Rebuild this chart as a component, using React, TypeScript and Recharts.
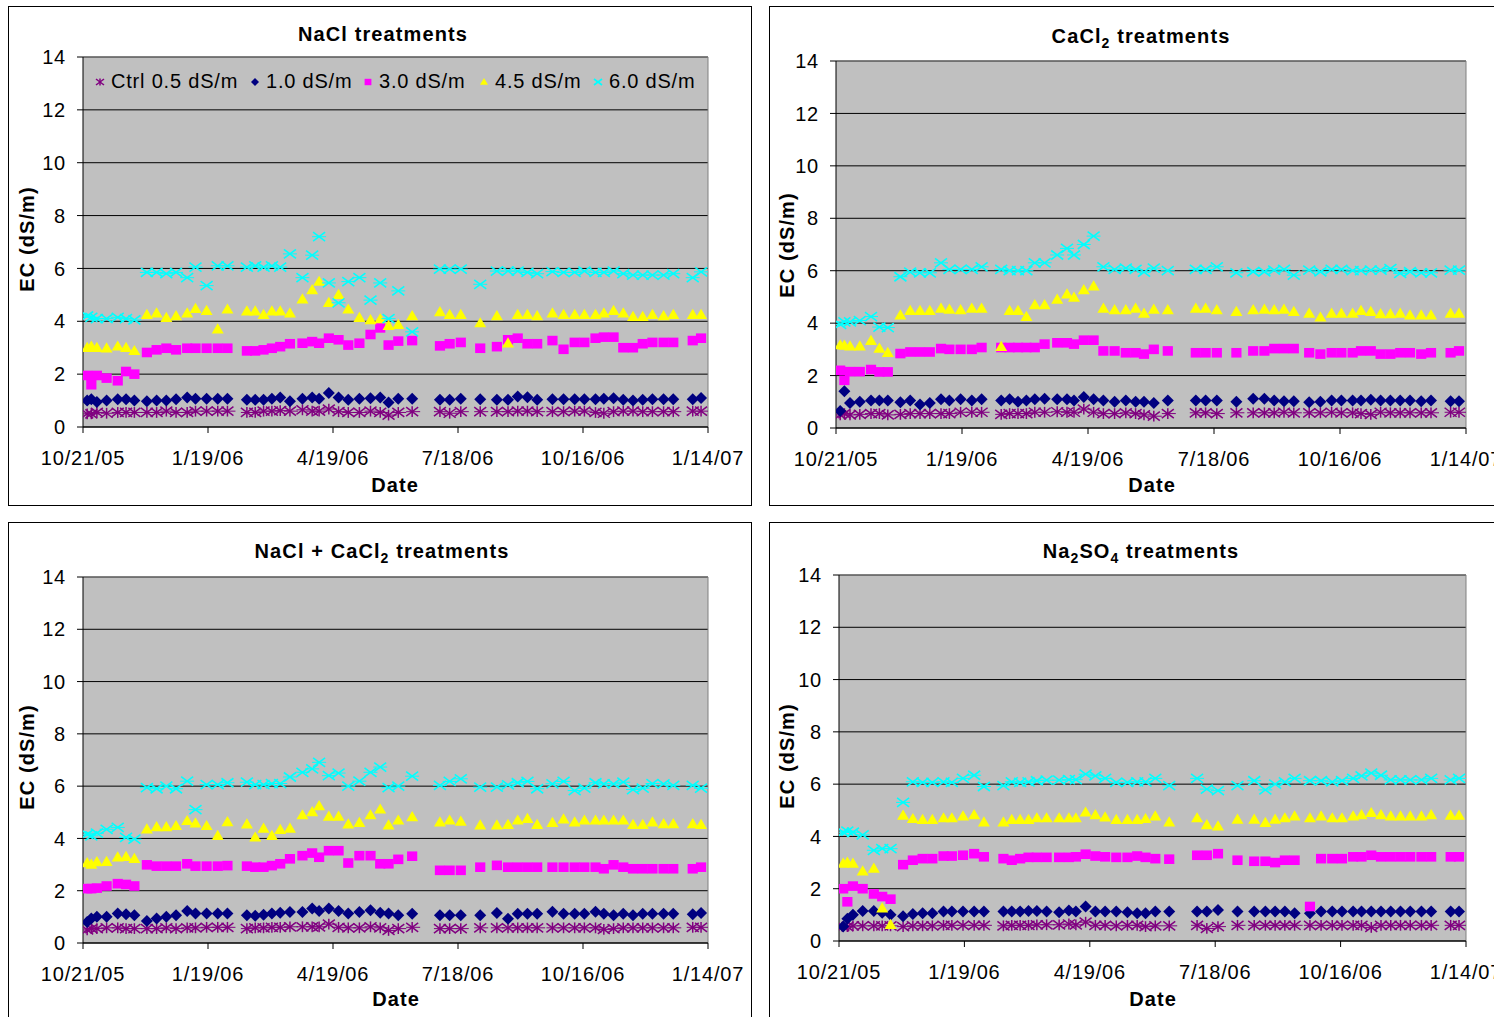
import React from "react";
import { CartesianGrid, ReferenceLine, Scatter, ScatterChart, XAxis, YAxis } from "recharts";

// sampling days, counted from 10/21/05
const DAYS = [
  3, 6, 10, 17, 25, 31, 37,
  46, 53, 60, 67, 75, 81, 89, 97, 104,
  118, 124, 130, 136, 142, 149, 158, 165, 170, 177, 184, 191, 199, 207, 214, 220, 227,
  237,
  257, 264, 272,
  286,
  298, 306, 313, 320, 327,
  338, 346, 354, 361, 369, 375, 382, 389, 396, 403, 410, 418, 425,
  439, 445,
];

const DATE_TICKS = [0, 90, 180, 270, 360, 450];
const DATE_LABELS = ["10/21/05", "1/19/06", "4/19/06", "7/18/06", "10/16/06", "1/14/07"];
const EC_TICKS = [0, 2, 4, 6, 8, 10, 12, 14];
const LEGEND_LABELS = ["Ctrl 0.5 dS/m", "1.0 dS/m", "3.0 dS/m", "4.5 dS/m", "6.0 dS/m"];

// NaCl
const naclCtrl = [
  0.5, 0.5, 0.55, 0.52, 0.55, 0.55, 0.55,
  0.55, 0.55, 0.6, 0.55, 0.55, 0.6, 0.6, 0.6, 0.6,
  0.55, 0.55, 0.6, 0.6, 0.62, 0.6, 0.65, 0.6, 0.6, 0.68, 0.58, 0.55, 0.55, 0.6, 0.55, 0.45, 0.55,
  0.58,
  0.58, 0.52, 0.58,
  0.58,
  0.58, 0.58, 0.6, 0.6, 0.58,
  0.58, 0.58, 0.6, 0.6, 0.55, 0.52, 0.58, 0.6, 0.6, 0.58, 0.58, 0.58, 0.58,
  0.6, 0.6,
];
const nacl1 = [
  1.0, 1.05, 0.95, 1.0, 1.05, 1.05, 1.0,
  0.97, 1.0, 1.0, 1.05, 1.12, 1.07, 1.07, 1.07, 1.07,
  1.03, 1.03, 1.03, 1.07, 1.12, 0.97, 1.07, 1.12, 1.07, 1.29, 1.12, 1.03, 1.07, 1.09, 1.12, 0.93, 1.07,
  1.07,
  1.03, 1.03, 1.07,
  1.05,
  1.03, 1.03, 1.15, 1.13, 1.03,
  1.05, 1.05, 1.05, 1.05, 1.05, 1.07, 1.09, 1.03, 1.0, 1.03, 1.05, 1.05, 1.05,
  1.05, 1.1,
];
const nacl3 = [
  1.95, 1.6, 1.95, 1.85, 1.75, 2.1, 2.0,
  2.82, 2.92, 2.98, 2.92, 2.98, 2.98, 2.98, 2.98, 2.98,
  2.88, 2.88, 2.92, 2.98, 3.04, 3.15, 3.17, 3.23, 3.17, 3.36, 3.3, 3.1, 3.17, 3.5, 3.75, 3.1, 3.25,
  3.27,
  3.07, 3.15, 3.2,
  2.98,
  3.04, 3.3, 3.36, 3.15, 3.15,
  3.27, 2.94, 3.2, 3.2, 3.36, 3.4, 3.4, 3.0, 3.0, 3.15, 3.2, 3.2, 3.2,
  3.27, 3.36,
];
const nacl45 = [
  3.0, 3.05, 3.0, 2.98, 3.05, 3.0, 2.88,
  4.25, 4.3, 4.13, 4.2, 4.3, 4.47, 4.4, 3.7, 4.45,
  4.38, 4.38, 4.25, 4.38, 4.38, 4.3, 4.83, 5.18, 5.5, 4.7, 5.0, 4.45, 4.13, 4.05, 4.08, 3.83, 3.87,
  4.2,
  4.35, 4.25, 4.25,
  3.93,
  4.2, 3.17, 4.25, 4.25, 4.2,
  4.3, 4.25, 4.25, 4.25, 4.25, 4.3, 4.4, 4.3, 4.17, 4.17, 4.25, 4.2, 4.25,
  4.25, 4.25,
];
const nacl6 = [
  4.2, 4.15, 4.1, 4.1, 4.15, 4.1, 4.05,
  5.85, 5.85, 5.8, 5.85, 5.65, 6.05, 5.35, 6.1, 6.1,
  6.05, 6.1, 6.05, 6.1, 6.05, 6.55, 5.65, 6.5, 7.2, 5.45, 4.7, 5.5, 5.65, 4.8, 5.45, 4.1, 5.15,
  3.6,
  5.97, 5.97, 5.97,
  5.4,
  5.9, 5.9, 5.9, 5.85, 5.8,
  5.88, 5.85, 5.85, 5.9, 5.85, 5.85, 5.9, 5.8, 5.75, 5.75, 5.75, 5.75, 5.8,
  5.65, 5.87,
];

// CaCl2
const caclCtrl = [
  0.5, 0.55, 0.5, 0.52, 0.55, 0.55, 0.5,
  0.52, 0.55, 0.55, 0.55, 0.55, 0.55, 0.6, 0.6, 0.6,
  0.52, 0.55, 0.55, 0.55, 0.6, 0.6, 0.62, 0.6, 0.6, 0.72, 0.6, 0.55, 0.55, 0.58, 0.55, 0.5, 0.45,
  0.55,
  0.58, 0.58, 0.55,
  0.58,
  0.58, 0.58, 0.58, 0.6, 0.58,
  0.58, 0.58, 0.6, 0.58, 0.58, 0.55, 0.52, 0.6, 0.58, 0.58, 0.58, 0.58, 0.58,
  0.6, 0.6,
];
const cacl1 = [
  0.65, 1.4, 0.95, 1.0, 1.05, 1.05, 1.05,
  0.98, 1.05, 0.9, 0.95, 1.1, 1.05, 1.1, 1.05, 1.1,
  1.05, 1.1, 1.0, 1.05, 1.1, 1.12, 1.1, 1.1, 1.05, 1.18, 1.1, 1.05, 1.0, 1.05, 1.0, 1.0, 0.95,
  1.05,
  1.05, 1.05, 1.05,
  1.0,
  1.12, 1.12, 1.05, 1.02, 1.02,
  0.98, 1.0, 1.05, 1.05, 1.05, 1.05, 1.08, 1.05, 1.05, 1.05, 1.05, 1.02, 1.05,
  1.02, 1.02,
];
const cacl3 = [
  2.2, 1.82, 2.15, 2.15, 2.23, 2.14, 2.14,
  2.84, 2.9, 2.9, 2.9, 3.03, 3.0, 3.0, 3.0, 3.07,
  3.07, 3.07, 3.07, 3.07, 3.07, 3.2, 3.25, 3.25, 3.2, 3.35, 3.35, 2.94, 2.94, 2.87, 2.87, 2.82, 3.0,
  2.94,
  2.87, 2.87, 2.87,
  2.87,
  2.94, 2.94, 3.03, 3.03, 3.03,
  2.87, 2.82, 2.87, 2.87, 2.87, 2.94, 2.94, 2.82, 2.82, 2.87, 2.87, 2.82, 2.87,
  2.87, 2.94,
];
const cacl45 = [
  3.16, 3.15, 3.12, 3.12, 3.33, 3.03, 2.87,
  4.3, 4.47, 4.47, 4.47, 4.56, 4.52, 4.5, 4.56, 4.56,
  3.1, 4.47, 4.47, 4.24, 4.69, 4.69, 4.9, 5.1, 4.98, 5.26, 5.41, 4.56, 4.5, 4.5, 4.56, 4.37, 4.52,
  4.5,
  4.56, 4.56, 4.5,
  4.43,
  4.5, 4.52, 4.5, 4.52, 4.43,
  4.37, 4.22, 4.37, 4.37, 4.37, 4.47, 4.43, 4.35, 4.35, 4.37, 4.3, 4.3, 4.3,
  4.37, 4.37,
];
const cacl6 = [
  3.95, 4.05, 4.05, 4.1, 4.25, 3.85, 3.83,
  5.77, 5.95, 5.92, 5.92, 6.3, 6.05, 6.05, 6.05, 6.15,
  6.05, 6.0, 6.0, 6.0, 6.3, 6.3, 6.6, 6.85, 6.6, 7.0, 7.32, 6.15, 6.05, 6.1, 6.05, 5.95, 6.1,
  6.0,
  6.05, 6.05, 6.15,
  5.92,
  5.96, 5.96, 6.02, 6.05, 5.83,
  6.02, 5.96, 6.05, 6.05, 6.0, 6.0, 6.02, 6.02, 6.08, 5.9, 5.96, 5.92, 5.92,
  6.02, 6.02,
];

// NaCl + CaCl2
const mixCtrl = [
  0.5, 0.55, 0.55, 0.58, 0.58, 0.55, 0.55,
  0.55, 0.55, 0.58, 0.55, 0.58, 0.58, 0.6, 0.6, 0.6,
  0.55, 0.58, 0.58, 0.6, 0.6, 0.62, 0.62, 0.62, 0.62, 0.72, 0.6, 0.58, 0.58, 0.62, 0.58, 0.48, 0.55,
  0.6,
  0.55, 0.55, 0.55,
  0.58,
  0.58, 0.58, 0.58, 0.58, 0.58,
  0.58, 0.58, 0.58, 0.58, 0.58, 0.52, 0.55, 0.58, 0.58, 0.58, 0.58, 0.58, 0.58,
  0.6, 0.6,
];
const mix1 = [
  0.8, 0.94, 1.0, 1.0, 1.13, 1.1, 1.06,
  0.84, 0.94, 1.0, 1.06, 1.22, 1.13, 1.13, 1.13, 1.13,
  1.06, 1.04, 1.08, 1.13, 1.16, 1.19, 1.19, 1.32, 1.22, 1.32, 1.22, 1.13, 1.19, 1.25, 1.16, 1.13, 1.06,
  1.12,
  1.06, 1.06, 1.06,
  1.06,
  1.15, 0.93, 1.12, 1.12, 1.12,
  1.2, 1.12, 1.12, 1.12, 1.2, 1.12, 1.06, 1.12, 1.06, 1.12, 1.12, 1.12, 1.12,
  1.1, 1.15,
];
const mix3 = [
  2.08, 2.08, 2.1, 2.18, 2.27, 2.24, 2.18,
  2.99, 2.94, 2.94, 2.94, 3.03, 2.94, 2.94, 2.94, 2.96,
  2.94, 2.9, 2.9, 2.96, 3.03, 3.22, 3.34, 3.44, 3.28, 3.53, 3.53, 3.06, 3.34, 3.34, 3.03, 3.03, 3.2,
  3.32,
  2.78, 2.78, 2.78,
  2.9,
  2.97, 2.9, 2.9, 2.9, 2.9,
  2.9, 2.9, 2.9, 2.9, 2.9, 2.84, 2.99, 2.9, 2.84, 2.84, 2.84, 2.84, 2.84,
  2.84, 2.9,
];
const mix45 = [
  3.06, 3.0, 3.1, 3.11, 3.28, 3.3, 3.22,
  4.35, 4.44, 4.44, 4.48, 4.67, 4.58, 4.48, 4.1, 4.63,
  4.54, 4.04, 4.38, 4.1, 4.33, 4.38, 4.89, 5.01, 5.24, 4.84, 4.84, 4.54, 4.6, 4.89, 5.11, 4.5, 4.69,
  4.82,
  4.62, 4.69, 4.65,
  4.5,
  4.5, 4.52, 4.69, 4.75, 4.52,
  4.6, 4.73, 4.62, 4.69, 4.69, 4.69, 4.69, 4.69, 4.52, 4.52, 4.62, 4.55, 4.55,
  4.55, 4.52,
];
const mix6 = [
  4.16, 4.1, 4.2, 4.35, 4.42, 4.04, 3.97,
  5.94, 5.9, 6.0, 5.9, 6.19, 5.1, 6.06, 6.06, 6.13,
  6.15, 6.06, 6.06, 6.1, 6.1, 6.35, 6.53, 6.66, 6.91, 6.4, 6.5, 6.0, 6.19, 6.53, 6.73, 5.94, 6.0,
  6.38,
  6.03, 6.18, 6.28,
  5.96,
  5.96, 6.05, 6.13, 6.18, 5.9,
  6.09, 6.18, 5.83, 5.92, 6.13, 6.09, 6.09, 6.15, 5.87, 5.92, 6.1, 6.09, 6.03,
  6.03, 5.92,
];

// Na2SO4
const sulfCtrl = [
  0.55, 0.55, 0.58, 0.58, 0.58, 0.58, 0.58,
  0.55, 0.58, 0.58, 0.58, 0.6, 0.6, 0.6, 0.6, 0.6,
  0.58, 0.6, 0.6, 0.6, 0.62, 0.62, 0.62, 0.65, 0.62, 0.72, 0.6, 0.6, 0.58, 0.6, 0.6, 0.55, 0.58,
  0.58,
  0.6, 0.48, 0.55,
  0.6,
  0.6, 0.6, 0.6, 0.6, 0.6,
  0.6, 0.6, 0.6, 0.6, 0.6, 0.6, 0.52, 0.6, 0.6, 0.6, 0.6, 0.6, 0.6,
  0.6, 0.6,
];
const sulf1 = [
  0.55, 0.85, 1.0, 1.15, 1.15, 1.08, 1.0,
  0.95, 1.03, 1.06, 1.06, 1.13, 1.13, 1.13, 1.13, 1.13,
  1.13, 1.13, 1.13, 1.15, 1.15, 1.13, 1.1, 1.17, 1.13, 1.32, 1.13, 1.13, 1.13, 1.1, 1.06, 1.06, 1.13,
  1.13,
  1.13, 1.13, 1.19,
  1.13,
  1.13, 1.13, 1.13, 1.13, 1.06,
  1.06, 1.13, 1.13, 1.13, 1.13, 1.13, 1.13, 1.13, 1.13, 1.13, 1.13, 1.13, 1.13,
  1.13, 1.13,
];
const sulf3 = [
  2.0, 1.5, 2.1, 2.0, 1.8, 1.7, 1.6,
  2.92, 3.09, 3.15, 3.15, 3.25, 3.25, 3.28, 3.34, 3.22,
  3.15, 3.09, 3.15, 3.2, 3.2, 3.2, 3.2, 3.2, 3.22, 3.32, 3.25, 3.22, 3.2, 3.2, 3.25, 3.2, 3.15,
  3.13,
  3.28, 3.28, 3.34,
  3.09,
  3.05, 3.05, 3.0, 3.09, 3.09,
  1.32, 3.15, 3.15, 3.15, 3.22, 3.22, 3.28, 3.22, 3.22, 3.22, 3.22, 3.22, 3.22,
  3.22, 3.22,
];
const sulf45 = [
  2.96, 3.0, 2.96, 2.67, 2.77, 1.25, 0.62,
  4.8, 4.67, 4.64, 4.64, 4.7, 4.7, 4.77, 4.82, 4.54,
  4.54, 4.64, 4.64, 4.64, 4.7, 4.7, 4.7, 4.7, 4.7, 4.92, 4.82, 4.73, 4.64, 4.64, 4.64, 4.67, 4.77,
  4.54,
  4.7, 4.44, 4.39,
  4.65,
  4.65, 4.52, 4.65, 4.7, 4.77,
  4.7, 4.77, 4.7, 4.7, 4.77, 4.82, 4.9, 4.82, 4.77, 4.77, 4.77, 4.77, 4.82,
  4.8, 4.8,
];
const sulf6 = [
  4.16, 4.2, 4.16, 4.06, 3.47, 3.53, 3.53,
  5.3, 6.09, 6.07, 6.07, 6.09, 6.07, 6.22, 6.34, 5.91,
  5.94, 6.09, 6.07, 6.09, 6.13, 6.15, 6.15, 6.17, 6.17, 6.38, 6.32, 6.22, 6.07, 6.07, 6.09, 6.09, 6.22,
  5.94,
  6.22, 5.81, 5.75,
  5.94,
  6.13, 5.78, 6.0, 6.09, 6.22,
  6.13, 6.13, 6.09, 6.13, 6.22, 6.32, 6.42, 6.34, 6.16, 6.16, 6.16, 6.16, 6.22,
  6.16, 6.22,
];

const FONT = '"Liberation Sans", Arial, Helvetica, sans-serif';
const KINDS = ["ctrl", "d1", "d3", "d45", "d6"];
const COLORS: Record<string, string> = {
  ctrl: "#800080",
  d1: "#000080",
  d3: "#FF00FF",
  d45: "#FFFF00",
  d6: "#00FFFF",
};

function Marker({ kind, cx, cy, r = 6, tail = false }: { kind: string; cx: number; cy: number; r?: number; tail?: boolean }) {
  const c = COLORS[kind];
  if (kind === "ctrl") {
    return (
      <g stroke={c} strokeWidth={1.5} fill="none">
        <line x1={cx - r} y1={cy - r * 0.75} x2={cx + r} y2={cy + r * 0.75} />
        <line x1={cx - r} y1={cy + r * 0.75} x2={cx + r} y2={cy - r * 0.75} />
        <line x1={cx} y1={cy - r * 0.9} x2={cx} y2={cy + r * 0.9} />
        {tail && <line x1={cx - r} y1={cy} x2={cx + r + 2} y2={cy} strokeWidth={1} />}
      </g>
    );
  }
  if (kind === "d1") {
    return <polygon points={`${cx},${cy - r} ${cx + r},${cy} ${cx},${cy + r} ${cx - r},${cy}`} fill={c} />;
  }
  if (kind === "d3") {
    return <rect x={cx - r * 0.85} y={cy - r * 0.8} width={r * 1.7} height={r * 1.6} fill={c} />;
  }
  if (kind === "d45") {
    return <polygon points={`${cx},${cy - r} ${cx + r},${cy + r * 0.7} ${cx - r},${cy + r * 0.7}`} fill={c} />;
  }
  return (
    <g stroke={c} strokeWidth={1.6} fill="none">
      <line x1={cx - r} y1={cy - r * 0.75} x2={cx + r} y2={cy + r * 0.75} />
      <line x1={cx - r} y1={cy + r * 0.75} x2={cx + r} y2={cy - r * 0.75} />
      {tail && <line x1={cx - r - 1} y1={cy} x2={cx + r + 1} y2={cy} strokeWidth={1} />}
    </g>
  );
}

const shapeFor = (kind: string) => (p: any) => <Marker kind={kind} cx={p.cx} cy={p.cy} tail />;

const toPoints = (vals: number[]) => DAYS.map((d, i) => ({ day: d, v: vals[i] }));

const sub = (t: string) => <sub style={{ fontSize: 14, lineHeight: 0 }}>{t}</sub>;

const PANELS = [
  {
    x: 8, y: 6, off: { left: 75, top: 51, right: 44, bottom: 79 },
    title: <>NaCl treatments</>, titlePos: [383, 34], datePos: [395, 485], ecPos: [27, 239],
    series: [naclCtrl, nacl1, nacl3, nacl45, nacl6], legend: true,
  },
  {
    x: 769, y: 6, off: { left: 67, top: 55, right: 47, bottom: 78 },
    title: <>CaCl{sub("2")} treatments</>, titlePos: [1141, 36], datePos: [1152, 485], ecPos: [787, 245],
    series: [caclCtrl, cacl1, cacl3, cacl45, cacl6], legend: false,
  },
  {
    x: 8, y: 522, off: { left: 75, top: 55, right: 44, bottom: 79 },
    title: <>NaCl + CaCl{sub("2")} treatments</>, titlePos: [382, 551], datePos: [396, 999], ecPos: [27, 757],
    series: [mixCtrl, mix1, mix3, mix45, mix6], legend: false,
  },
  {
    x: 769, y: 522, off: { left: 70, top: 53, right: 47, bottom: 81 },
    title: <>Na{sub("2")}SO{sub("4")} treatments</>, titlePos: [1141, 551], datePos: [1153, 999], ecPos: [787, 756],
    series: [sulfCtrl, sulf1, sulf3, sulf45, sulf6], legend: false,
  },
];

const W = 744;
const H = 500;
const tickStyle = { fill: "#000", fontSize: 20, fontFamily: FONT, letterSpacing: 0.8 };
const boldText: React.CSSProperties = {
  position: "absolute",
  fontFamily: FONT,
  fontWeight: "bold",
  fontSize: 20,
  letterSpacing: 1.1,
  lineHeight: 1,
  whiteSpace: "nowrap",
  color: "#000",
};

function Legend() {
  const marks = [100, 255, 368, 484, 598];
  return (
    <>
      {LEGEND_LABELS.map((label, i) => (
        <div key={label} style={{ position: "absolute", left: marks[i] - 6, top: 70, height: 22, display: "flex", alignItems: "center", fontFamily: FONT, fontSize: 20, letterSpacing: 0.8, whiteSpace: "nowrap" }}>
          <svg width={12} height={12} style={{ marginRight: 5 }}>
            <Marker kind={KINDS[i]} cx={6} cy={7} r={4} />
          </svg>
          {label}
        </div>
      ))}
    </>
  );
}

function Panel({ p }: { p: (typeof PANELS)[number] }) {
  const yAxisW = 60;
  const xAxisH = 40;
  return (
    <>
      <div style={{ position: "absolute", left: p.x, top: p.y, width: W, height: H, border: "1px solid #000", boxSizing: "border-box" }} />
      <div style={{ position: "absolute", left: p.x, top: p.y }}>
        <ScatterChart
          width={W}
          height={H}
          margin={{ top: p.off.top, left: p.off.left - yAxisW, right: p.off.right, bottom: p.off.bottom - xAxisH }}
        >
          <CartesianGrid vertical={false} stroke="#000" fill="#C0C0C0" />
          <XAxis
            type="number"
            dataKey="day"
            domain={[0, 450]}
            ticks={DATE_TICKS}
            interval={0}
            tickFormatter={(v: number) => DATE_LABELS[DATE_TICKS.indexOf(v)]}
            height={xAxisH}
            tickSize={6}
            tickMargin={18}
            stroke="#000"
            tick={tickStyle}
            allowDataOverflow
          />
          <YAxis
            type="number"
            dataKey="v"
            domain={[0, 14]}
            ticks={EC_TICKS}
            interval={0}
            width={yAxisW}
            tickSize={6}
            tickMargin={11}
            stroke="#000"
            tick={tickStyle}
            allowDataOverflow
          />
          <ReferenceLine x={450} stroke="#808080" />
          <ReferenceLine y={14} stroke="#808080" />
          {p.series.map((vals, i) => (
            <Scatter key={KINDS[i]} data={toPoints(vals)} shape={shapeFor(KINDS[i])} isAnimationActive={false} />
          ))}
        </ScatterChart>
      </div>
      <div style={{ ...boldText, left: p.titlePos[0], top: p.titlePos[1], transform: "translate(-50%, -50%)" }}>{p.title}</div>
      <div style={{ ...boldText, left: p.datePos[0], top: p.datePos[1], transform: "translate(-50%, -50%)" }}>Date</div>
      <div style={{ ...boldText, left: p.ecPos[0], top: p.ecPos[1], transform: "translate(-50%, -50%) rotate(-90deg)" }}>EC (dS/m)</div>
      {p.legend && <Legend />}
    </>
  );
}

export default function App() {
  return (
    <div style={{ position: "absolute", left: 0, top: 0, width: 1494, height: 1017, overflow: "hidden", background: "#fff" }}>
      {PANELS.map((p, i) => (
        <Panel key={i} p={p} />
      ))}
    </div>
  );
}
